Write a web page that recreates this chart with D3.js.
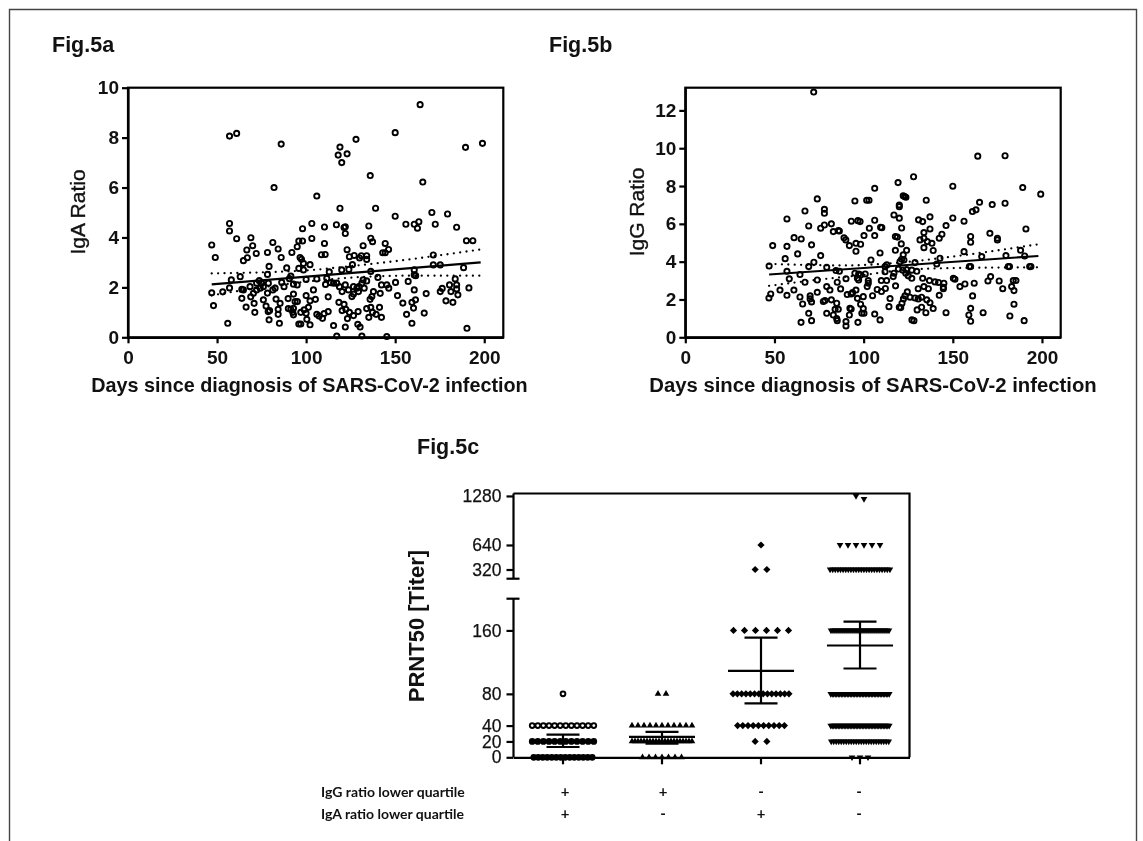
<!DOCTYPE html>
<html>
<head>
<meta charset="utf-8">
<script src="https://cdn.jsdelivr.net/npm/d3@7"></script>
<style>
    html, body { margin: 0; padding: 0; background: #fff; }
    svg { display: block; filter: blur(0.4px); }
    text { font-family: "Liberation Sans", Arial, sans-serif; fill: #111; }
</style>
</head>
<body>
<div id="chart"></div>
<script>
// [days, IgA ratio]
var igaPoints = [
    [57,8.06],[61,8.17],[86,7.74],[82,6.0],[106,5.66],[118,7.3],[119,7.62],[123,7.35],[120,7.0],[128,7.93],
    [136,6.48],[150,8.2],[164,9.32],[165.5,6.22],[189.5,7.61],[199,7.77],[119,5.17],[139,5.17],[150,4.85],[170.6,5.0],
    [179.4,4.94],[163.3,4.63],[156,4.53],[160.7,4.53],[162.5,4.37],[172.5,4.53],[184.5,4.41],[190,3.87],[193.6,3.87],[171.4,3.3],
    [171.4,2.9],[175.3,2.9],[188.4,2.79],[183.7,2.34],[191.4,1.98],[190.3,0.36],[180.5,2.1],[184.5,2.1],[176.4,1.96],[175.3,1.83],
    [181.3,1.83],[184.5,1.94],[185.2,1.7],[178.5,1.46],[182.4,1.4],[167.4,1.75],[166.3,0.97],[160.7,1.9],[161.4,1.5],[159.4,1.4],
    [160.3,1.17],[156.4,0.92],[159.4,0.56],[154.3,1.37],[151.3,1.67],[150.2,2.2],[157.3,2.24],[160.7,2.7],[160.7,2.5],[161.5,2.47],
    [146.4,1.97],[145.3,2.1],[142.3,2.1],[140.3,2.4],[145.3,0.03],[131.3,0.05],[117.2,0.05],[115.4,0.47],[122,0.41],[129,0.52],
    [130.3,0.41],[142.3,0.8],[135.2,0.8],[137.3,1.0],[139.3,0.92],[141.2,1.2],[136.3,1.2],[134,1.15],[129.2,1.03],[126.6,0.87],
    [123.2,0.75],[124.3,1.0],[122.3,1.12],[120.2,1.07],[121.3,1.32],[118.4,1.4],[112.4,1.03],[109.2,0.76],[110.1,0.95],[106,0.92],
    [107.3,0.85],[112.4,1.62],[105.2,1.52],[102.2,1.46],[100,1.67],[104.1,1.9],[102.2,0.5],[97,0.53],[95.9,0.53],[100.4,0.72],
    [100,0.96],[101.3,1.2],[98.9,1.1],[97,1.0],[92.9,0.9],[91.4,1.12],[90,1.15],[92.9,1.73],[89.9,1.55],[93.8,1.43],
    [95.1,1.43],[92.9,1.16],[92.5,1.0],[84.3,1.12],[84.3,0.92],[83.1,1.53],[85.4,1.36],[85,0.56],[79.2,0.7],[78.7,1.03],
    [77.5,1.25],[76,1.5],[71.2,1.0],[70.8,1.36],[68.9,1.62],[66.3,1.21],[63.9,1.56],[56,0.56],[48,1.27],[47,1.78],
    [53.2,1.82],[57,1.98],[63.9,1.92],[64.8,1.9],[68.5,2.03],[70.4,1.76],[72.2,1.9],[74.2,1.97],[75,2.17],[73.7,2.27],
    [72.2,2.17],[76,2.03],[78.8,2.17],[78.3,1.77],[81.3,1.9],[82.6,1.97],[47,3.7],[49,3.2],[57,4.56],[57,4.26],
    [61,3.95],[58,2.3],[63,2.43],[64.8,3.07],[67,3.19],[66.7,3.5],[69,3.99],[70,3.67],[72,3.36],[78.3,3.4],
    [81.3,3.8],[84.3,3.54],[86,3.2],[79.2,2.84],[78.3,2.52],[89.1,2.78],[92,3.4],[95,3.63],[95.9,3.86],[98,3.86],
    [98,4.35],[103.2,4.56],[103.2,3.96],[110.3,4.42],[110.3,3.76],[108.6,3.31],[110.7,3.32],[102.2,2.91],[96.6,3.2],[97.4,3.13],
    [98.5,2.96],[95.9,2.76],[98.5,2.7],[91.4,2.45],[90.6,2.35],[117,4.51],[122,4.43],[121.3,4.4],[122,4.16],[123,3.51],
    [124.3,3.23],[127,3.28],[126,2.91],[124,2.72],[120,2.7],[113,2.62],[111.6,2.36],[113.8,2.19],[110.9,2.12],[106,2.34],
    [100,2.32],[95,2.1],[92.9,2.13],[86.3,2.2],[87.6,2.03],[132,3.67],[136.3,3.97],[137.3,3.83],[135.2,4.46],[144.4,3.76],
    [146.3,3.52],[143,3.39],[144.4,3.39],[131,3.27],[134,3.27],[134,3.12],[130,3.18],[136.3,2.64],[132,2.3],[134,2.26],
    [131.3,2.17],[126.6,2.03],[128.5,1.97],[129.6,2.03],[122,2.1],[120.2,1.83],[123.8,1.9],[125.7,1.63],[126.6,1.73],[129.4,1.83],
    [132.6,1.97],[117.2,2.17],[118.7,2.03],[115.4,2.17],[137.8,1.83],[136.9,1.63],[135.9,1.52],[141.6,1.76],[79.5,1.07]
];

// [days, IgG ratio]
var iggPoints = [
    [72,12.97],[164,9.58],[179.3,9.6],[128,8.49],[119.3,8.18],[150,7.99],[189.2,7.92],[106.2,7.88],[199.3,7.57],[122.2,7.48],
    [123.7,7.41],[123,7.45],[135.1,7.25],[74,7.32],[95.1,7.21],[101.7,7.25],[103,7.25],[165,7.14],[172.1,7.02],[179.3,7.09],
    [120,7.0],[120,6.91],[67.1,6.68],[78,6.77],[78,6.56],[163,6.74],[161,6.65],[117,6.47],[120,6.3],[137.2,6.37],
    [57,6.26],[150,6.31],[130.8,6.21],[133.1,6.12],[156.3,6.14],[93.1,6.14],[96.8,6.17],[98,6.12],[106.2,6.19],[146.2,5.91],
    [69.2,5.89],[81.9,6.0],[78,5.94],[75.9,5.77],[83,5.59],[85.8,5.64],[86.4,5.62],[103.2,5.77],[109.5,5.82],[110.2,5.8],
    [121.3,5.78],[191,5.73],[137.2,5.73],[133.8,5.54],[106.2,5.38],[100.2,5.38],[143.9,5.45],[117.8,5.33],[118.9,5.3],[61,5.27],
    [65,5.2],[89,5.26],[90,5.15],[160,5.33],[160,5.03],[170.8,5.5],[175,5.24],[175,5.15],[142.4,5.24],[131.6,5.15],
    [133.8,5.24],[135.7,5.06],[49,4.85],[57,4.81],[70.8,4.89],[92,4.85],[95.7,4.97],[98.3,4.92],[121.1,4.94],[133.8,4.74],
    [138.3,4.97],[139,4.59],[117.8,4.6],[124.1,4.6],[95.7,4.55],[109.2,4.46],[156.3,4.53],[188,4.6],[63,4.41],[75.9,4.32],
    [56,4.16],[104.1,4.09],[142.8,4.18],[122.2,4.36],[121.3,4.13],[122.6,4.09],[120.4,4.0],[166.2,4.27],[179.8,4.32],[190.3,4.3],
    [72.1,3.97],[69.2,3.74],[47,3.77],[79.3,3.7],[141,3.88],[128.8,3.95],[112,3.74],[113,3.83],[159.3,3.74],[160,3.74],
    [181.1,3.74],[181.8,3.74],[193.1,3.74],[193.8,3.74],[119.5,3.61],[122,3.55],[124.1,3.58],[127,3.55],[129.8,3.49],[57,3.49],
    [84.5,3.53],[86.4,3.49],[112,3.47],[64.3,3.32],[95.1,3.39],[97.2,3.35],[98.3,3.3],[100.9,3.35],[116.6,3.21],[117,3.39],
    [123.6,3.39],[125,3.25],[127,3.12],[58.3,3.09],[74,3.03],[90.1,3.1],[96.5,3.12],[97.2,3.03],[150.3,3.12],[151.2,3.07],
    [133.1,3.12],[102.6,3.0],[109.9,3.0],[112.9,3.0],[136.9,3.0],[140,2.93],[142,2.9],[145,2.86],[171.2,3.21],[169.7,2.98],
    [176,2.98],[183.9,3.0],[185.4,3.0],[67.1,2.91],[85.2,2.91],[156.8,2.82],[162,2.86],[154,2.68],[117.9,2.72],[79.3,2.68],
    [102,2.68],[102.6,2.86],[144.7,2.57],[144.7,2.65],[130.6,2.57],[133.8,2.68],[136.3,2.57],[178,2.57],[183,2.68],[184.3,2.47],
    [87.1,2.56],[81.1,2.5],[60.9,2.5],[53.1,2.5],[112.2,2.58],[107.6,2.53],[110,2.42],[95.7,2.5],[74,2.38],[57,2.22],
    [47.9,2.29],[46.9,2.08],[64.3,2.13],[70,2.19],[70,2.03],[105,2.2],[142.4,2.22],[161.1,2.19],[90.8,2.26],[93,2.29],
    [93.8,2.36],[99.8,2.15],[96.5,2.06],[124.5,2.4],[123.2,2.19],[122.3,2.03],[126,2.12],[128.8,2.08],[130.6,2.03],[132.5,2.12],
    [135.4,1.98],[114.8,2.05],[77.4,1.89],[78.3,1.94],[70.8,1.87],[81.9,1.98],[84.9,1.8],[65.8,1.76],[98.3,1.75],[137.2,1.83],
    [121.5,1.8],[184.3,1.75],[114.2,1.62],[120,1.59],[120.8,1.57],[84,1.48],[85.8,1.48],[92.3,1.53],[93,1.5],[99.8,1.52],
    [160,1.53],[139,1.52],[132.5,1.59],[130,1.45],[79.3,1.27],[83,1.18],[69.2,1.27],[99,1.27],[100.2,1.27],[106.2,1.23],
    [134.9,1.3],[146.2,1.3],[159,1.18],[167,1.3],[182,1.13],[92,1.18],[84.9,0.99],[85.2,0.88],[64.9,0.79],[70.8,0.88],
    [96.8,0.79],[109.2,0.92],[127.1,0.92],[128.2,0.88],[160,0.85],[190,0.88],[90.1,0.83],[90.1,0.6]
];

// fitted line and dotted 95% band, [days, ratio]
var igaFit = [[47,2.12],[198,3.0]];
var igaUpper = [[47,2.56],[100,2.68],[125,2.85],[150,3.05],[198,3.52]];
var igaLower = [[47,1.68],[80,2.05],[110,2.3],[135,2.43],[160,2.47],[198,2.47]];
var iggFit = [[47,3.32],[198,4.3]];
var iggUpper = [[47,3.88],[90,3.8],[120,3.95],[150,4.27],[198,4.92]];
var iggLower = [[47,2.72],[75,3.05],[100,3.3],[125,3.58],[150,3.66],[198,3.7]];

var dayTicks = [0, 50, 100, 150, 200];
var igaTicks = [0, 2, 4, 6, 8, 10];
var iggTicks = [0, 2, 4, 6, 8, 10, 12];

// Fig.5c
var titerTicks = [0, 20, 40, 80, 160, 320, 640, 1280];
var groupNames = ["++", "+-", "-+", "--"];
var iggFlags = ["+", "+", "-", "-"];
var igaFlags = ["+", "-", "+", "-"];
// dots per titer level (same order as titerTicks)
var group1Counts = [14, 12, 12, 1, 0, 0, 0, 0];
var group2Counts = [7, 21, 11, 2, 0, 0, 0, 0];
var group3Counts = [0, 2, 10, 14, 6, 2, 1, 0];
var group4Counts = [3, 24, 40, 40, 30, 24, 6, 0];
var group4TopValues = [1280, 1240];
var groupMeans = [19.5, 25.7, 109, 141];
var groupUpper = [28.7, 32, 151, 171];
var groupLower = [13, 17.3, 68, 112];

var width = 1143;
var height = 841;

var svg = d3.select("#chart").append("svg")
    .attr("width", width)
    .attr("height", height);

// outer border of the figure, open at the bottom
svg.append("path")
    .attr("d", "M9.5," + height + "V9.5H1136.5V" + height)
    .attr("fill", "none")
    .attr("stroke", "#444")
    .attr("stroke-width", 1.4);

function styleAxis(g) {
    g.selectAll("path, line")
        .attr("stroke", "#000")
        .attr("stroke-width", 2.2);
}

function drawScatter(opts) {
    var x = d3.scaleLinear().domain([0, opts.xMax]).range([opts.left, opts.right]);
    var y = d3.scaleLinear().domain([0, opts.yMax]).range([337.3, 87.7]);

    svg.append("rect")
        .attr("x", opts.left)
        .attr("y", y.range()[1])
        .attr("width", opts.right - opts.left)
        .attr("height", y.range()[0] - y.range()[1])
        .attr("fill", "none")
        .attr("stroke", "#000")
        .attr("stroke-width", 2.2);

    svg.append("g")
        .selectAll("circle")
        .data(opts.points)
        .enter().append("circle")
        .attr("cx", function(d) { return x(d[0]); })
        .attr("cy", function(d) { return y(d[1]); })
        .attr("r", 2.6)
        .attr("fill", "none")
        .attr("stroke", "#000")
        .attr("stroke-width", 1.9);

    var line = d3.line()
        .x(function(d) { return x(d[0]); })
        .y(function(d) { return y(d[1]); });

    svg.append("path")
        .attr("d", line(opts.fit))
        .attr("fill", "none")
        .attr("stroke", "#000")
        .attr("stroke-width", 2.2);

    var bandLine = d3.line()
        .x(function(d) { return x(d[0]); })
        .y(function(d) { return y(d[1]); })
        .curve(d3.curveMonotoneX);

    [opts.upper, opts.lower].forEach(function(band) {
        svg.append("path")
            .attr("d", bandLine(band))
            .attr("fill", "none")
            .attr("stroke", "#000")
            .attr("stroke-width", 2.3)
            .attr("stroke-linecap", "round")
            .attr("stroke-dasharray", "0 6.4");
    });

    var xAxis = svg.append("g")
        .attr("transform", "translate(0," + y.range()[0] + ")")
        .call(d3.axisBottom(x).tickValues(dayTicks).tickSize(6).tickSizeOuter(0).tickPadding(7));
    var yAxis = svg.append("g")
        .attr("transform", "translate(" + opts.left + ",0)")
        .call(d3.axisLeft(y).tickValues(opts.yTicks).tickSize(6).tickSizeOuter(0).tickPadding(3));
    xAxis.call(styleAxis);
    yAxis.call(styleAxis);
    xAxis.selectAll("text").attr("font-size", 19).attr("font-weight", "bold");
    yAxis.selectAll("text").attr("font-size", 19).attr("font-weight", "bold");

    svg.append("text")
        .attr("x", opts.titleX)
        .attr("y", 392)
        .attr("text-anchor", "middle")
        .attr("font-size", opts.titleSize)
        .attr("font-weight", "bold")
        .text("Days since diagnosis of SARS-CoV-2 infection");

    svg.append("text")
        .attr("transform", "translate(" + opts.yTitleX + ",212) rotate(-90)")
        .attr("text-anchor", "middle")
        .attr("font-size", 21)
        .attr("stroke", "#111")
        .attr("stroke-width", 0.35)
        .text(opts.yLabel);
}

drawScatter({
    points: igaPoints, fit: igaFit, upper: igaUpper, lower: igaLower,
    left: 128, right: 503.3, xMax: 210.7, yMax: 10, yTicks: igaTicks,
    yLabel: "IgA Ratio", yTitleX: 85, titleX: 309.5, titleSize: 19.8
});

drawScatter({
    points: iggPoints, fit: iggFit, upper: iggUpper, lower: iggLower,
    left: 685.3, right: 1060.7, xMax: 210.5, yMax: 13.2, yTicks: iggTicks,
    yLabel: "IgG Ratio", yTitleX: 644, titleX: 873, titleSize: 20.3
});

[["Fig.5a", 52, 52], ["Fig.5b", 549, 52], ["Fig.5c", 417, 454]].forEach(function(t) {
    svg.append("text")
        .attr("x", t[1])
        .attr("y", t[2])
        .attr("font-size", 21.5)
        .attr("font-weight", "bold")
        .text(t[0]);
});

// Fig.5c: y axis is broken between 200 and 320
var yTiter = d3.scaleLinear()
    .domain([0, 200, 200.01, 1312])
    .range([757.3, 598.7, 578.7, 493.5]);
var xGroup = d3.scaleBand()
    .domain(groupNames)
    .range([513.5, 909.5]);
var xFlag = d3.scalePoint()
    .domain(groupNames)
    .range([565, 859]);

var left = xGroup.range()[0];
var right = xGroup.range()[1];

// top and right of the frame
svg.append("path")
    .attr("d", "M" + left + "," + yTiter(1312) + "H" + right + "V" + yTiter(0))
    .attr("fill", "none")
    .attr("stroke", "#000")
    .attr("stroke-width", 2.2);

var yAxisC = svg.append("g")
    .attr("transform", "translate(" + left + ",0)")
    .call(d3.axisLeft(yTiter).tickValues(titerTicks).tickSize(7).tickSizeOuter(0).tickPadding(5).tickFormat(d3.format("d")));
yAxisC.select(".domain").remove();
yAxisC.call(styleAxis);
yAxisC.selectAll("text").attr("font-size", 17.5).attr("stroke", "#111").attr("stroke-width", 0.25);

// the two pieces of the y axis with their caps at the break
[[0, 200], [200.01, 1312]].forEach(function(piece) {
    svg.append("line")
        .attr("x1", left).attr("x2", left)
        .attr("y1", yTiter(piece[0])).attr("y2", yTiter(piece[1]))
        .attr("stroke", "#000").attr("stroke-width", 2.2);
});
[200, 200.01].forEach(function(v) {
    svg.append("line")
        .attr("x1", left - 7).attr("x2", left + 6)
        .attr("y1", yTiter(v)).attr("y2", yTiter(v))
        .attr("stroke", "#000").attr("stroke-width", 2.2);
});

var xAxisC = svg.append("g")
    .attr("transform", "translate(0," + yTiter(0) + ")")
    .call(d3.axisBottom(xGroup).tickSize(7).tickSizeOuter(0).tickFormat(""));
xAxisC.call(styleAxis);

svg.append("text")
    .attr("transform", "translate(424,626) rotate(-90)")
    .attr("text-anchor", "middle")
    .attr("font-size", 22)
    .attr("font-weight", "bold")
    .text("PRNT50 [Titer]");

// horizontal distance between the dots of a row
var rowGaps = [
    [4.5, 5.6, 5.6, 0, 0, 0, 0, 0],
    [6.5, 3, 6, 8, 0, 0, 0, 0],
    [0, 11.7, 5.2, 4.3, 11, 11.7, 0, 0],
    [8, 2.5, 1.5, 1.5, 2, 2.6, 8, 8]
];
var groupCounts = [group1Counts, group2Counts, group3Counts, group4Counts];

function rowValues(g, i) {
    if (g == 3 && i == titerTicks.length - 1) return group4TopValues;
    return d3.range(groupCounts[g][i]).map(function() { return titerTicks[i]; });
}

var triangle = d3.symbol().type(d3.symbolTriangle).size(19);
var square = d3.symbol().type(d3.symbolSquare).size(26);

groupNames.forEach(function(name, g) {
    var cx = xGroup(name) + xGroup.bandwidth() / 2;
    var dots = [];
    titerTicks.forEach(function(t, i) {
        var vals = rowValues(g, i);
        vals.forEach(function(v, k) {
            dots.push({ x: cx + (k - (vals.length - 1) / 2) * rowGaps[g][i], y: yTiter(v), v: v });
        });
    });

    var marks = svg.append("g").selectAll(".dot")
        .data(dots)
        .enter();

    if (g == 0) {
        // the crowded lower rows print almost solid
        marks.append("circle")
            .attr("cx", function(d) { return d.x; })
            .attr("cy", function(d) { return d.y; })
            .attr("r", 2.4)
            .attr("fill", function(d) { return d.v < 40 ? "#000" : "none"; })
            .attr("stroke", "#000")
            .attr("stroke-width", 1.9);
    } else {
        marks.append("path")
            .attr("d", g == 2 ? square : triangle)
            .attr("fill", "#000")
            .attr("transform", function(d) {
                var rot = g == 1 ? 0 : (g == 2 ? 45 : 180);
                return "translate(" + d.x + "," + d.y + ") rotate(" + rot + ")";
            });
    }

    // mean line and error bar
    var bars = [
        [cx - 33, cx + 33, groupMeans[g], groupMeans[g]],
        [cx - 16.5, cx + 16.5, groupUpper[g], groupUpper[g]],
        [cx - 16.5, cx + 16.5, groupLower[g], groupLower[g]],
        [cx, cx, groupLower[g], groupUpper[g]]
    ];
    bars.forEach(function(b) {
        svg.append("line")
            .attr("x1", b[0]).attr("x2", b[1])
            .attr("y1", yTiter(b[2])).attr("y2", yTiter(b[3]))
            .attr("stroke", "#000")
            .attr("stroke-width", 2.2);
    });
});

// table under the chart
[["IgG ratio lower quartile", 792, iggFlags], ["IgA ratio lower quartile", 814, igaFlags]].forEach(function(row) {
    svg.append("text")
        .attr("x", 321)
        .attr("y", row[1] + 5)
        .attr("font-size", 14)
        .attr("font-weight", "bold")
        .style("font-family", "Lato")
        .text(row[0]);

    svg.append("g").selectAll("text")
        .data(row[2])
        .enter().append("text")
        .attr("x", function(d, i) { return xFlag(groupNames[i]); })
        .attr("y", row[1] + 5)
        .attr("text-anchor", "middle")
        .attr("font-size", 15)
        .attr("font-weight", "bold")
        .style("font-family", "Lato")
        .text(function(d) { return d; });
});
</script>
</body>
</html>
